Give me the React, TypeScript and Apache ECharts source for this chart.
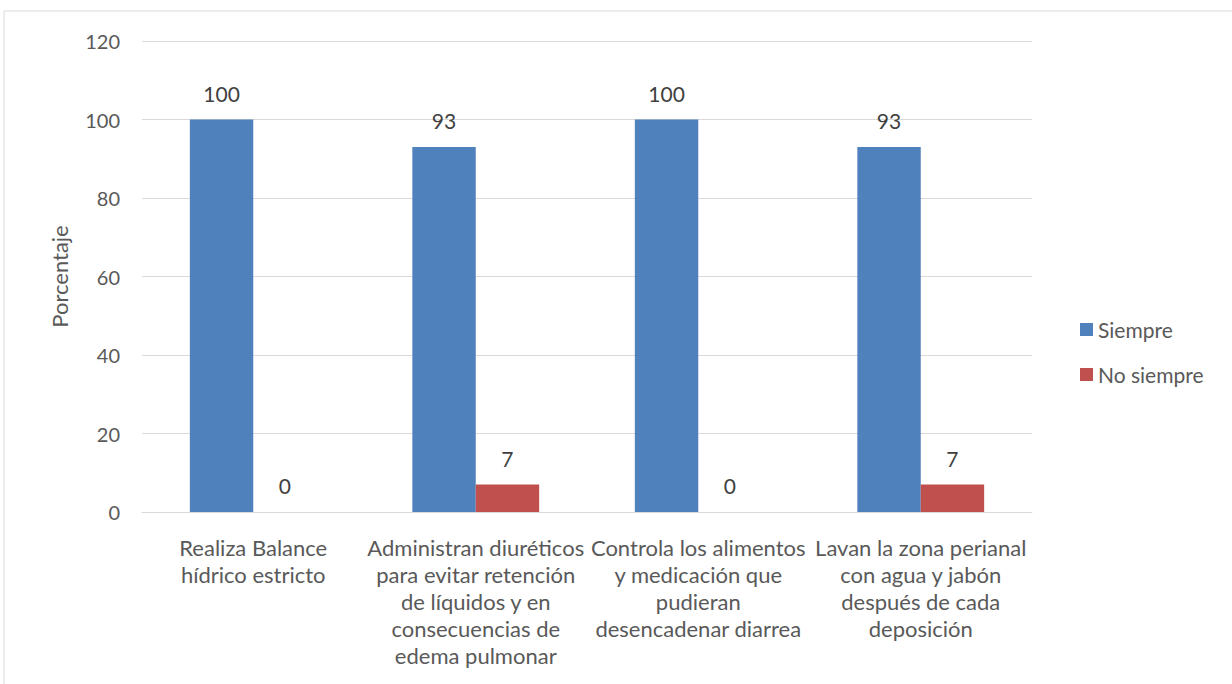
import React, { useEffect, useRef } from "react";
import * as echarts from "echarts";

const categories = [
  "Realiza Balance\nhídrico estricto",
  "Administran diuréticos\npara evitar retención\nde líquidos y en\nconsecuencias de\nedema pulmonar",
  "Controla los alimentos\ny medicación que\npudieran\ndesencadenar diarrea",
  "Lavan la zona perianal\ncon agua y jabón\ndespués de cada\ndeposición",
];
const siempre = [100, 93, 100, 93];
const noSiempre = [0, 7, 0, 7];
const seriesNames = ["Siempre", "No siempre"];

const FONT = "Lato, 'Noto Sans', sans-serif";

export default function App() {
  const ref = useRef<HTMLDivElement>(null);
  useEffect(() => {
    const chart = echarts.init(ref.current!, null, { renderer: "svg" });
    const labelStyle = {
      show: true,
      position: "top" as const,
      distance: 16,
      color: "#404040",
      fontSize: 21,
      fontFamily: FONT,
    };
    chart.setOption({
      animation: false,
      backgroundColor: "#ffffff",
      textStyle: { fontFamily: FONT },
      graphic: [
        {
          type: "rect",
          shape: { x: 4, y: 11, width: 1240, height: 700 },
          style: { fill: "none", stroke: "#d9d9d9", lineWidth: 1 },
          silent: true,
        },
      ],
      grid: { left: 142, right: 200, top: 41, bottom: 172, containLabel: false },
      legend: {
        orient: "vertical",
        left: 1075,
        top: 314,
        itemWidth: 13,
        itemHeight: 13,
        itemGap: 24,
        icon: "rect",
        textStyle: { color: "#595959", fontSize: 21, fontFamily: FONT },
        data: seriesNames,
      },
      xAxis: {
        type: "category",
        data: categories,
        axisLine: { lineStyle: { color: "#d9d9d9", width: 1 } },
        axisTick: { show: false },
        axisLabel: {
          interval: 0,
          color: "#595959",
          fontSize: 22,
          fontFamily: FONT,
          lineHeight: 27,
          margin: 22,
          align: "center",
        },
      },
      yAxis: {
        type: "value",
        min: 0,
        max: 120,
        interval: 20,
        name: "Porcentaje",
        nameLocation: "middle",
        nameGap: 72,
        nameRotate: 90,
        nameTextStyle: { color: "#595959", fontSize: 22, fontFamily: FONT },
        axisLine: { show: false },
        axisTick: { show: false },
        splitLine: { lineStyle: { color: "#d9d9d9", width: 1 } },
        axisLabel: { color: "#595959", fontSize: 20, fontFamily: FONT, margin: 22 },
      },
      series: [
        {
          name: seriesNames[0],
          type: "bar",
          data: siempre,
          itemStyle: { color: "#4f81bd" },
          barGap: "0%",
          barCategoryGap: "43%",
          label: labelStyle,
        },
        {
          name: seriesNames[1],
          type: "bar",
          data: noSiempre,
          itemStyle: { color: "#c0504d" },
          label: labelStyle,
        },
      ],
    });
    return () => chart.dispose();
  }, []);
  return (
    <div
      ref={ref}
      style={{ position: "fixed", left: 0, top: 0, width: 1232, height: 684 }}
    />
  );
}
